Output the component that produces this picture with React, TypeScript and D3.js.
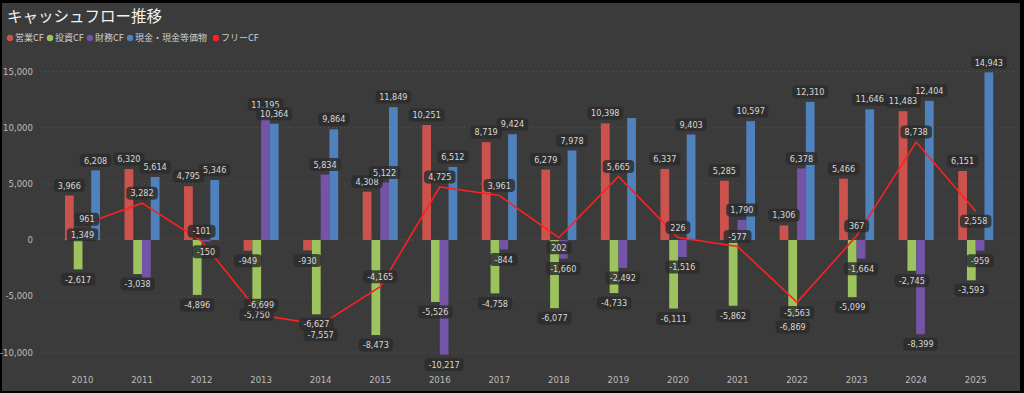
import React from 'react';
import * as d3 from 'd3';

// キャッシュフロー推移 (単位: 百万円)
const years = [2010, 2011, 2012, 2013, 2014, 2015, 2016, 2017, 2018, 2019, 2020, 2021, 2022, 2023, 2024, 2025];
const operatingCF = [3966, 6320, 4795, -949, -930, 4308, 10251, 8719, 6279, 10398, 6337, 5285, 1306, 5466, 11483, 6151];
const investingCF = [-2617, -3038, -4896, -5750, -6627, -8473, -5526, -4758, -6077, -4733, -6111, -5862, -6869, -5099, -2745, -3593];
const financingCF = [961, -3400, -150, 11195, 5834, 5122, -10217, -844, -1660, -2492, -1516, 1790, 6378, -1664, -8399, -959];
const cashBalance = [6208, 5614, 5346, 10364, 9864, 11849, 6512, 9424, 7978, 10870, 9403, 10597, 12310, 11646, 12404, 14943];
const freeCF = [1349, 3282, -101, -6699, -7557, -4165, 4725, 3961, 202, 5665, 226, -577, -5563, 367, 8738, 2558];
const yTicks = [-10000, -5000, 0, 5000, 10000, 15000];

const barSeries = [
  { key: '営業CF', values: operatingCF, color: '#cc524e' },
  { key: '投資CF', values: investingCF, color: '#9cc35e' },
  { key: '財務CF', values: financingCF, color: '#7354a6' },
  { key: '現金・現金等価物', values: cashBalance, color: '#4f81bd' },
];
const lineColor = '#ff2020';

// labels that the original chart leaves out (overlap)
const hiddenLabels = new Set(['2011-財務CF', '2019-現金・現金等価物']);
const freeLabelBelow = new Set([2010, 2014, 2018, 2022, 2025]);

const W = 1024;
const H = 393;
const comma = d3.format(',');
const fmt = (v: number) => comma(v).replace('\u2212', '-');
const labelFont = "'Liberation Sans Narrow', 'DejaVu Sans Condensed', 'Roboto', sans-serif";
const cjkFont = "'Noto Sans CJK JP', 'Noto Sans', sans-serif";

const textWidth = (s: string) => {
  let w = 0;
  for (const c of s) w += c === ',' ? 2.3 : c === '-' ? 3 : 4.3;
  return w;
};

const Label = ({ x, y, text }: { x: number; y: number; text: string }) => {
  const w = textWidth(text) + 12;
  const h = 13;
  return (
    <g>
      <rect x={x - w / 2} y={y - h / 2} width={w} height={h} rx={4} fill="rgba(44,44,44,0.82)" />
      <text x={x} y={y} dy="0.35em" textAnchor="middle" fill="#d8d8d8" fontSize={9} fontFamily={labelFont}>
        {text}
      </text>
    </g>
  );
};

export default function App() {
  const x0 = d3.scaleBand<number>().domain(years).range([52.7, 1005.5]).padding(0);
  const x1 = d3
    .scaleBand<string>()
    .domain(barSeries.map((s) => s.key))
    .range([0, x0.bandwidth()])
    .paddingInner(0)
    .paddingOuter(1.4);
  const y = d3.scaleLinear().domain([-11000, 16000]).range([363.4, 60.5]);

  const cx = (yr: number) => (x0(yr) as number) + x0.bandwidth() / 2;
  const line = d3
    .line<number>()
    .x((_, i) => cx(years[i]))
    .y((d) => y(d));

  const legendItems = [...barSeries.map((s) => ({ key: s.key, color: s.color })), { key: 'フリーCF', color: lineColor }];
  let lx = 10;
  const legendPos = legendItems.map((item) => {
    const p = lx;
    const tw = [...item.key].reduce((a, c) => a + (/[A-Za-z]/.test(c) ? 4 : 9), 0);
    lx += tw + 14;
    return p;
  });

  return (
    <div style={{ position: 'absolute', left: 0, top: 0 }}>
      <svg width={W} height={H} style={{ display: 'block' }}>
        <rect x={0} y={0} width={W} height={H} fill="#000" />
        <rect x={2} y={3} width={1018} height={388} fill="#3b3b3b" />

        <text x={7} y={22} fill="#f2f2f2" fontSize={15.5} fontFamily={cjkFont}>
          キャッシュフロー推移
        </text>

        {legendItems.map((item, i) => (
          <g key={item.key} transform={`translate(${legendPos[i]},38)`}>
            <circle r={3.2} fill={item.color} />
            <text x={5} dy="0.35em" fill="#cfcfcf" fontSize={9} fontFamily={cjkFont}>
              {item.key}
            </text>
          </g>
        ))}

        {yTicks.map((t) => (
          <g key={t}>
            <line x1={40} x2={1016} y1={y(t)} y2={y(t)} stroke="#5a5a5a" strokeDasharray="1,3" />
            <text x={33} y={y(t)} dy="0.35em" textAnchor="end" fill="#bdbdbd" fontSize={9.5} fontFamily={labelFont}>
              {fmt(t)}
            </text>
          </g>
        ))}

        {years.map((yr) => (
          <text key={yr} x={cx(yr)} y={380} dy="0.35em" textAnchor="middle" fill="#bdbdbd" fontSize={9.5} fontFamily={labelFont}>
            {yr}
          </text>
        ))}

        {barSeries.map((s) =>
          years.map((yr, i) => {
            const v = s.values[i];
            const bx = (x0(yr) as number) + (x1(s.key) as number);
            return (
              <rect
                key={`${s.key}-${yr}`}
                x={bx}
                y={y(Math.max(0, v))}
                width={x1.bandwidth()}
                height={Math.abs(y(v) - y(0))}
                fill={s.color}
              />
            );
          })
        )}

        <path d={line(freeCF) || ''} fill="none" stroke={lineColor} strokeWidth={1.6} />

        {barSeries.map((s) =>
          years.map((yr, i) => {
            if (hiddenLabels.has(`${yr}-${s.key}`)) return null;
            const v = s.values[i];
            const bx = (x0(yr) as number) + (x1(s.key) as number) + x1.bandwidth() / 2;
            const ly = v >= 0 ? y(v) - 10 : y(v) + 10;
            return <Label key={`l-${s.key}-${yr}`} x={bx} y={ly} text={fmt(v)} />;
          })
        )}

        {years.map((yr, i) => {
          const v = freeCF[i];
          const ly = freeLabelBelow.has(yr) ? y(v) + 10 : y(v) - 10;
          return <Label key={`f-${yr}`} x={cx(yr)} y={ly} text={fmt(v)} />;
        })}
      </svg>
    </div>
  );
}
